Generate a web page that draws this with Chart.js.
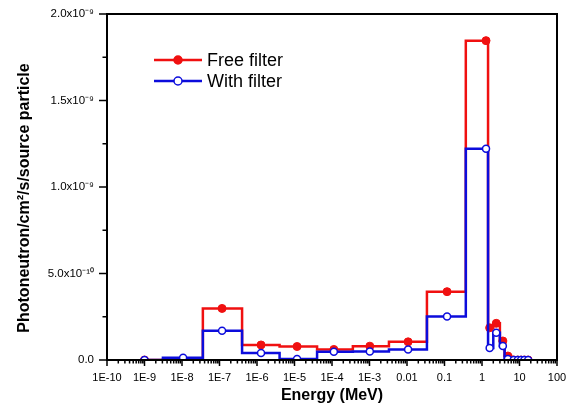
<!DOCTYPE html>
<html><head><meta charset="utf-8">
<script src="https://cdn.jsdelivr.net/npm/chart.js@4.4.0/dist/chart.umd.min.js"></script>
<style>html,body{margin:0;padding:0;background:#fff;}#wrap{width:572px;height:414px;position:relative;}</style>
</head><body><div id="wrap"><canvas id="c" width="572" height="414"></canvas></div>
<script>
// ---- data (energy in MeV) ----
const binEdges = [7.6e-10, 3.1e-9, 3.6e-8, 4.0e-7, 4.0e-6, 4.0e-5, 3.6e-4, 3.3e-3, 0.034, 0.37, 1.45, 2, 3, 4, 6, 8, 10, 12, 15, 20];
const markerEnergies = [1e-9, 1.07e-8, 1.17e-7, 1.28e-6, 1.17e-5, 1.12e-4, 1.02e-3, 0.0107, 0.117, 1.28, 1.6, 2.4, 3.6, 4.9, 7, 9, 11, 13.5, 17];
const freeFilter = [0, 3e-12, 2.98e-10, 8.7e-11, 7.8e-11, 6.1e-11, 8.0e-11, 1.05e-10, 3.95e-10, 1.846e-9, 1.86e-10, 2.12e-10, 1.10e-10, 2.3e-11, 0, 0, 0, 0, 0];
const withFilter = [0, 1.3e-11, 1.69e-10, 4.1e-11, 6e-12, 4.7e-11, 4.9e-11, 6.1e-11, 2.52e-10, 1.221e-9, 7.0e-11, 1.57e-10, 8.1e-11, 6e-12, 0, 0, 0, 0, 0];
const seriesNames = ['Free filter', 'With filter'];
const xTickValues = [1e-10, 1e-9, 1e-8, 1e-7, 1e-6, 1e-5, 1e-4, 1e-3, 1e-2, 1e-1, 1, 10, 100];
const xTickLabels = ['1E-10', '1E-9', '1E-8', '1E-7', '1E-6', '1E-5', '1E-4', '1E-3', '0.01', '0.1', '1', '10', '100'];
const yTickValues = [0, 5e-10, 1e-9, 1.5e-9, 2e-9];
const yTickLabels = ['0.0', '5.0x10\u207B\u00B9\u2070', '1.0x10\u207B\u2079', '1.5x10\u207B\u2079', '2.0x10\u207B\u2079'];
const xTitle = 'Energy (MeV)';
const yTitle = 'Photoneutron/cm\u00B2/s/source particle';

const RED = '#f01010', BLUE = '#0c0cdc';
const FONT = "'Liberation Sans', Arial, sans-serif";

function stepPoints(vals) {
  const pts = vals.map((v, i) => ({x: binEdges[i], y: v}));
  pts.push({x: binEdges[vals.length], y: vals[vals.length - 1]});
  return pts;
}
function markerPoints(vals) {
  return vals.map((v, i) => ({x: markerEnergies[i], y: v}));
}

const axisDecor = {
  id: 'axisDecor',
  afterDraw(chart) {
    const {ctx, chartArea: a, scales: {x, y}} = chart;
    ctx.save();
    ctx.strokeStyle = '#000';
    ctx.lineWidth = 1.5;
    ctx.beginPath();
    for (let d = -10; d <= 2; d++) {
      const px = x.getPixelForValue(Math.pow(10, d));
      ctx.moveTo(px, a.bottom); ctx.lineTo(px, a.bottom + 6);
      if (d < 2) {
        for (let m = 2; m <= 9; m++) {
          const p = x.getPixelForValue(m * Math.pow(10, d));
          ctx.moveTo(p, a.bottom); ctx.lineTo(p, a.bottom + 3.5);
        }
      }
    }
    for (let k = 0; k <= 8; k++) {
      const py = y.getPixelForValue(k * 2.5e-10);
      const len = (k % 2 === 0) ? 8 : 4.5;
      ctx.moveTo(a.left - len, py); ctx.lineTo(a.left, py);
    }
    ctx.stroke();
    ctx.lineWidth = 2;
    ctx.strokeRect(a.left, a.top, a.right - a.left, a.bottom - a.top);
    // y axis title
    ctx.translate(25, 198);
    ctx.rotate(-Math.PI / 2);
    ctx.fillStyle = '#000';
    ctx.font = "bold 16px " + FONT;
    ctx.textAlign = 'center';
    ctx.textBaseline = 'middle';
    ctx.fillText(yTitle, 0, 0);
    ctx.restore();
  }
};

const legendDraw = {
  id: 'legendDraw',
  afterDraw(chart) {
    const {ctx} = chart;
    const items = [
      {name: seriesNames[0], color: RED, fill: RED, y: 60},
      {name: seriesNames[1], color: BLUE, fill: '#fff', y: 81}
    ];
    ctx.save();
    items.forEach(it => {
      ctx.strokeStyle = it.color;
      ctx.lineWidth = 2.5;
      ctx.beginPath(); ctx.moveTo(154, it.y); ctx.lineTo(202, it.y); ctx.stroke();
      ctx.beginPath(); ctx.arc(178, it.y, 4, 0, Math.PI * 2);
      ctx.fillStyle = it.fill; ctx.fill();
      ctx.lineWidth = 1.5; ctx.stroke();
      ctx.fillStyle = '#000';
      ctx.font = "18px " + FONT;
      ctx.textBaseline = 'middle';
      ctx.fillText(it.name, 207, it.y + 1);
    });
    ctx.restore();
  }
};

new Chart(document.getElementById('c'), {
  type: 'line',
  data: {
    datasets: [
      {label: seriesNames[1] + ' markers', data: markerPoints(withFilter), showLine: false,
       pointRadius: 3.5, pointBackgroundColor: '#fff', pointBorderColor: BLUE, pointBorderWidth: 1.5},
      {label: seriesNames[1], data: stepPoints(withFilter), stepped: true, borderColor: BLUE,
       borderWidth: 2.5, pointRadius: 0, fill: false},
      {label: seriesNames[0] + ' markers', data: markerPoints(freeFilter), showLine: false,
       pointRadius: 4, pointBackgroundColor: RED, pointBorderColor: RED, pointBorderWidth: 1},
      {label: seriesNames[0], data: stepPoints(freeFilter), stepped: true, borderColor: RED,
       borderWidth: 2.5, pointRadius: 0, fill: false}
    ]
  },
  options: {
    responsive: false,
    animation: false,
    layout: {padding: {top: 14, right: 15, left: 0, bottom: 0}},
    plugins: {legend: {display: false}, tooltip: {enabled: false}},
    scales: {
      x: {
        type: 'logarithmic', min: 1e-10, max: 100,
        afterBuildTicks: s => { s.ticks = xTickValues.map(v => ({value: v})); },
        afterFit: s => { s.height = 54; s.paddingLeft = 0; s.paddingRight = 0; },
        ticks: {callback: (v, i) => xTickLabels[i], autoSkip: false, maxRotation: 0, minRotation: 0,
                padding: 11, color: '#000', font: {family: FONT, size: 11}},
        grid: {display: false, drawTicks: false},
        border: {display: false},
        title: {display: true, text: xTitle, color: '#000',
                font: {family: FONT, size: 16, weight: 'bold'}, padding: {top: 2, bottom: 9}}
      },
      y: {
        min: 0, max: 2e-9,
        afterBuildTicks: s => { s.ticks = yTickValues.map(v => ({value: v})); },
        afterFit: s => { s.width = 107; s.paddingTop = 0; s.paddingBottom = 0; },
        ticks: {callback: (v, i) => yTickLabels[i], padding: 13, color: '#000',
                font: {family: FONT, size: 11.5}},
        grid: {display: false, drawTicks: false},
        border: {display: false},
        title: {display: false}
      }
    }
  },
  plugins: [axisDecor, legendDraw]
});
</script>
</body></html>
